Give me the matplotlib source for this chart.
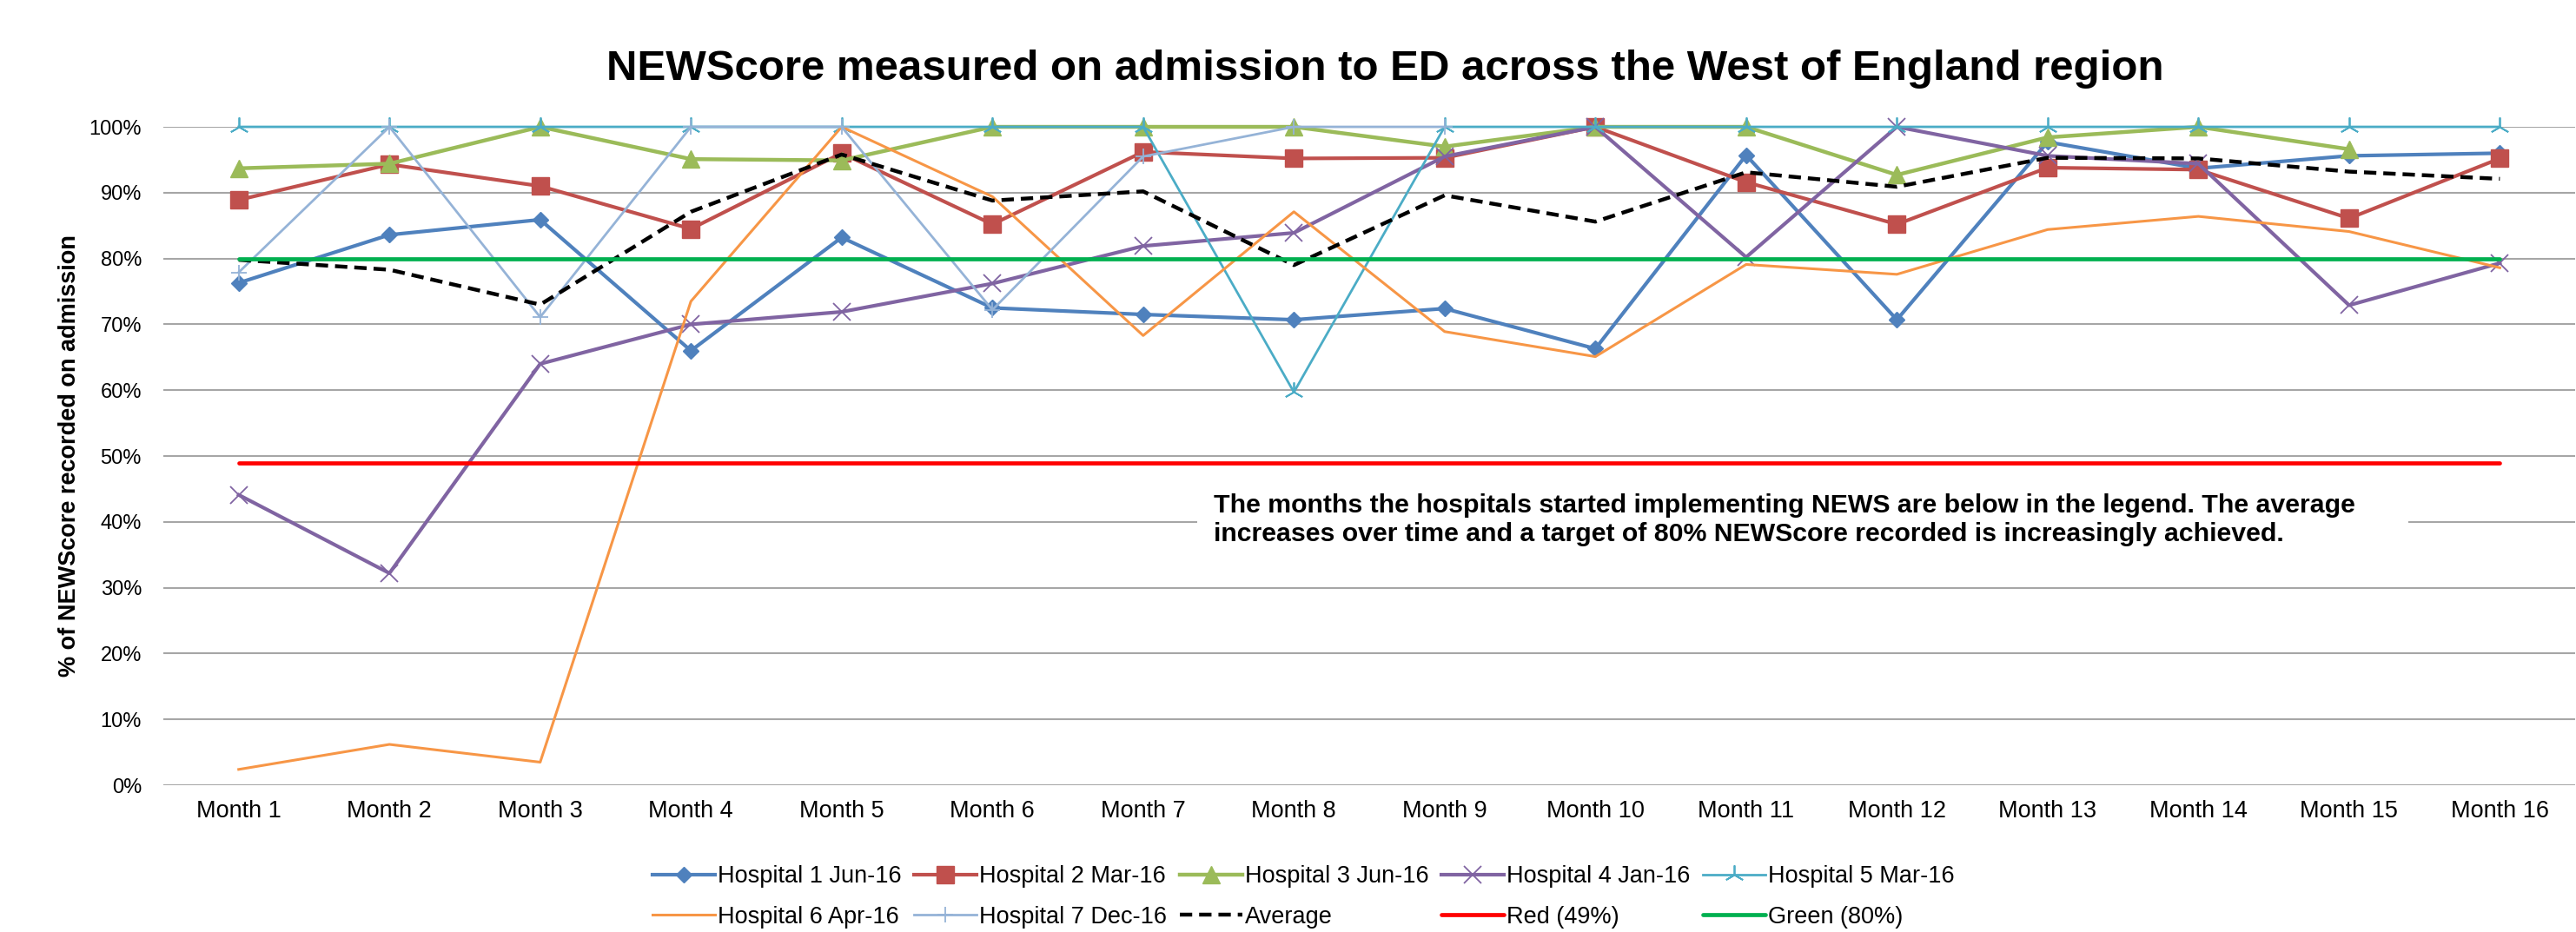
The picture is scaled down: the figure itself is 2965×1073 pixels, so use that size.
import numpy as np
import matplotlib
matplotlib.use("Agg")
import matplotlib.pyplot as plt
from matplotlib.patches import Rectangle
from matplotlib.ticker import FuncFormatter

plt.rcParams['font.family'] = ['Liberation Sans', 'DejaVu Sans']

months = ['Month 1', 'Month 2', 'Month 3', 'Month 4', 'Month 5', 'Month 6', 'Month 7', 'Month 8',
          'Month 9', 'Month 10', 'Month 11', 'Month 12', 'Month 13', 'Month 14', 'Month 15', 'Month 16']
nan = np.nan
hosp1 = [76.3, 83.6, 85.9, 66.0, 83.2, 72.5, 71.5, 70.7, 72.4, 66.3, 95.7, 70.7, 97.7, 93.7, 95.6, 96.0]
hosp2 = [88.9, 94.3, 91.0, 84.5, 96.0, 85.2, 96.2, 95.2, 95.3, 100, 91.6, 85.2, 93.8, 93.5, 86.1, 95.2]
hosp3 = [93.7, 94.4, 100, 95.1, 94.9, 100, 100, 100, 97.0, 100, 100, 92.7, 98.4, 100, 96.6, nan]
hosp4 = [44.1, 32.2, 64.0, 70.0, 71.9, 76.2, 81.9, 83.9, 95.5, 100, 80.2, 100, 95.6, 94.4, 72.9, 79.3]
hosp5 = [100, 100, 100, 100, 100, 100, 100, 59.7, 100, 100, 100, 100, 100, 100, 100, 100]
hosp6 = [2.4, 6.2, 3.5, 73.5, 100, 89.4, 68.3, 87.1, 68.9, 65.1, 79.1, 77.6, 84.4, 86.4, 84.1, 78.6]
hosp7 = [77.9, 100, 71.1, 100, 100, 72.2, 95.5, 100, 100, nan, nan, nan, nan, nan, nan, nan]
average = [79.8, 78.3, 73.0, 87.1, 95.8, 88.8, 90.2, 79.0, 89.6, 85.6, 93.1, 90.9, 95.3, 95.2, 93.2, 92.1]
red_line = [49, 49, 49, 49, 49, 49, 49, 49, 49, 49, 49, 49, 49, 49, 49, 49]
green_line = [80, 80, 80, 80, 80, 80, 80, 80, 80, 80, 80, 80, 80, 80, 80, 80]

x = np.arange(1, len(months) + 1)

fig = plt.figure(figsize=(29.65, 10.73), dpi=100)
ax = fig.add_axes([0.0634, 0.1575, 0.9363, 0.7064])

h1, = ax.plot(x, hosp1, color='#4F81BD', lw=3.0, marker='D', ms=9.5, label='Hospital 1 Jun-16', clip_on=False)
h2, = ax.plot(x, hosp2, color='#C0504D', lw=3.0, marker='s', ms=14, label='Hospital 2 Mar-16', clip_on=False)
h3, = ax.plot(x, hosp3, color='#9BBB59', lw=3.2, marker='^', ms=15, label='Hospital 3 Jun-16', clip_on=False)
h4, = ax.plot(x, hosp4, color='#8064A2', lw=3.0, marker='x', ms=14, mew=1.3, label='Hospital 4 Jan-16', clip_on=False)
h5, = ax.plot(x, hosp5, color='#4BACC6', lw=2.0, marker=(3, 2, 0), ms=16, mew=1.3, label='Hospital 5 Mar-16', clip_on=False)
h6, = ax.plot(x, hosp6, color='#F79646', lw=2.2, label='Hospital 6 Apr-16', clip_on=False)
h7, = ax.plot(x, hosp7, color='#95B3D7', lw=2.0, marker='+', ms=13, mew=1.3, label='Hospital 7 Dec-16', clip_on=False)
hav, = ax.plot(x, average, color='black', lw=3.2, dashes=(3.2, 1.8), label='Average', clip_on=False)
hr, = ax.plot(x, red_line, color='#FF0000', lw=3.4, label='Red (49%)', solid_capstyle='round')
hg, = ax.plot(x, green_line, color='#00B050', lw=3.4, label='Green (80%)', solid_capstyle='round')

ax.set_xlim(0.5, 16.5)
ax.set_ylim(0, 100)
ax.set_xticks(x)
ax.set_xticklabels(months, fontsize=19.5)
ax.set_yticks(np.arange(0, 101, 10))
ax.yaxis.set_major_formatter(FuncFormatter(lambda v, p: '%d%%' % v))
ax.tick_params(axis='y', labelsize=17, length=0, pad=18)
ax.tick_params(axis='x', length=0, pad=12)
ax.grid(axis='y', color='#A6A6A6', lw=1.5)
ax.set_axisbelow(True)
for s in ax.spines.values():
    s.set_visible(False)

ax.set_ylabel('% of NEWScore recorded on admission', fontsize=19.5, fontweight='bold', labelpad=7)

# white box behind the note hides the 40% gridline
ax.add_patch(Rectangle((7.36, 34.5), 8.03, 11.5, facecolor='white', edgecolor='none', zorder=1))
ax.text(7.47, 40.3, 'The months the hospitals started implementing NEWS are below in the legend. The average\n'
        'increases over time and a target of 80% NEWScore recorded is increasingly achieved.',
        fontsize=21.8, fontweight='bold', ha='left', va='center', linespacing=1.25, zorder=3)

fig.text(0.5376, 0.914, 'NEWScore measured on admission to ED across the West of England region',
         fontsize=35.5, fontweight='bold', ha='center', va='baseline')

# legend filled column by column, so reorder to get the two rows right
handles = [h1, h6, h2, h7, h3, hav, h4, hr, h5, hg]
fig.legend(handles=handles, labels=[h.get_label() for h in handles], loc='center',
           bbox_to_anchor=(0.506, 0.0377), ncol=5, frameon=False, fontsize=19.5,
           handlelength=2.66, handletextpad=0.1, columnspacing=0.55, labelspacing=0.75)

fig.savefig('out.png', dpi=100)
